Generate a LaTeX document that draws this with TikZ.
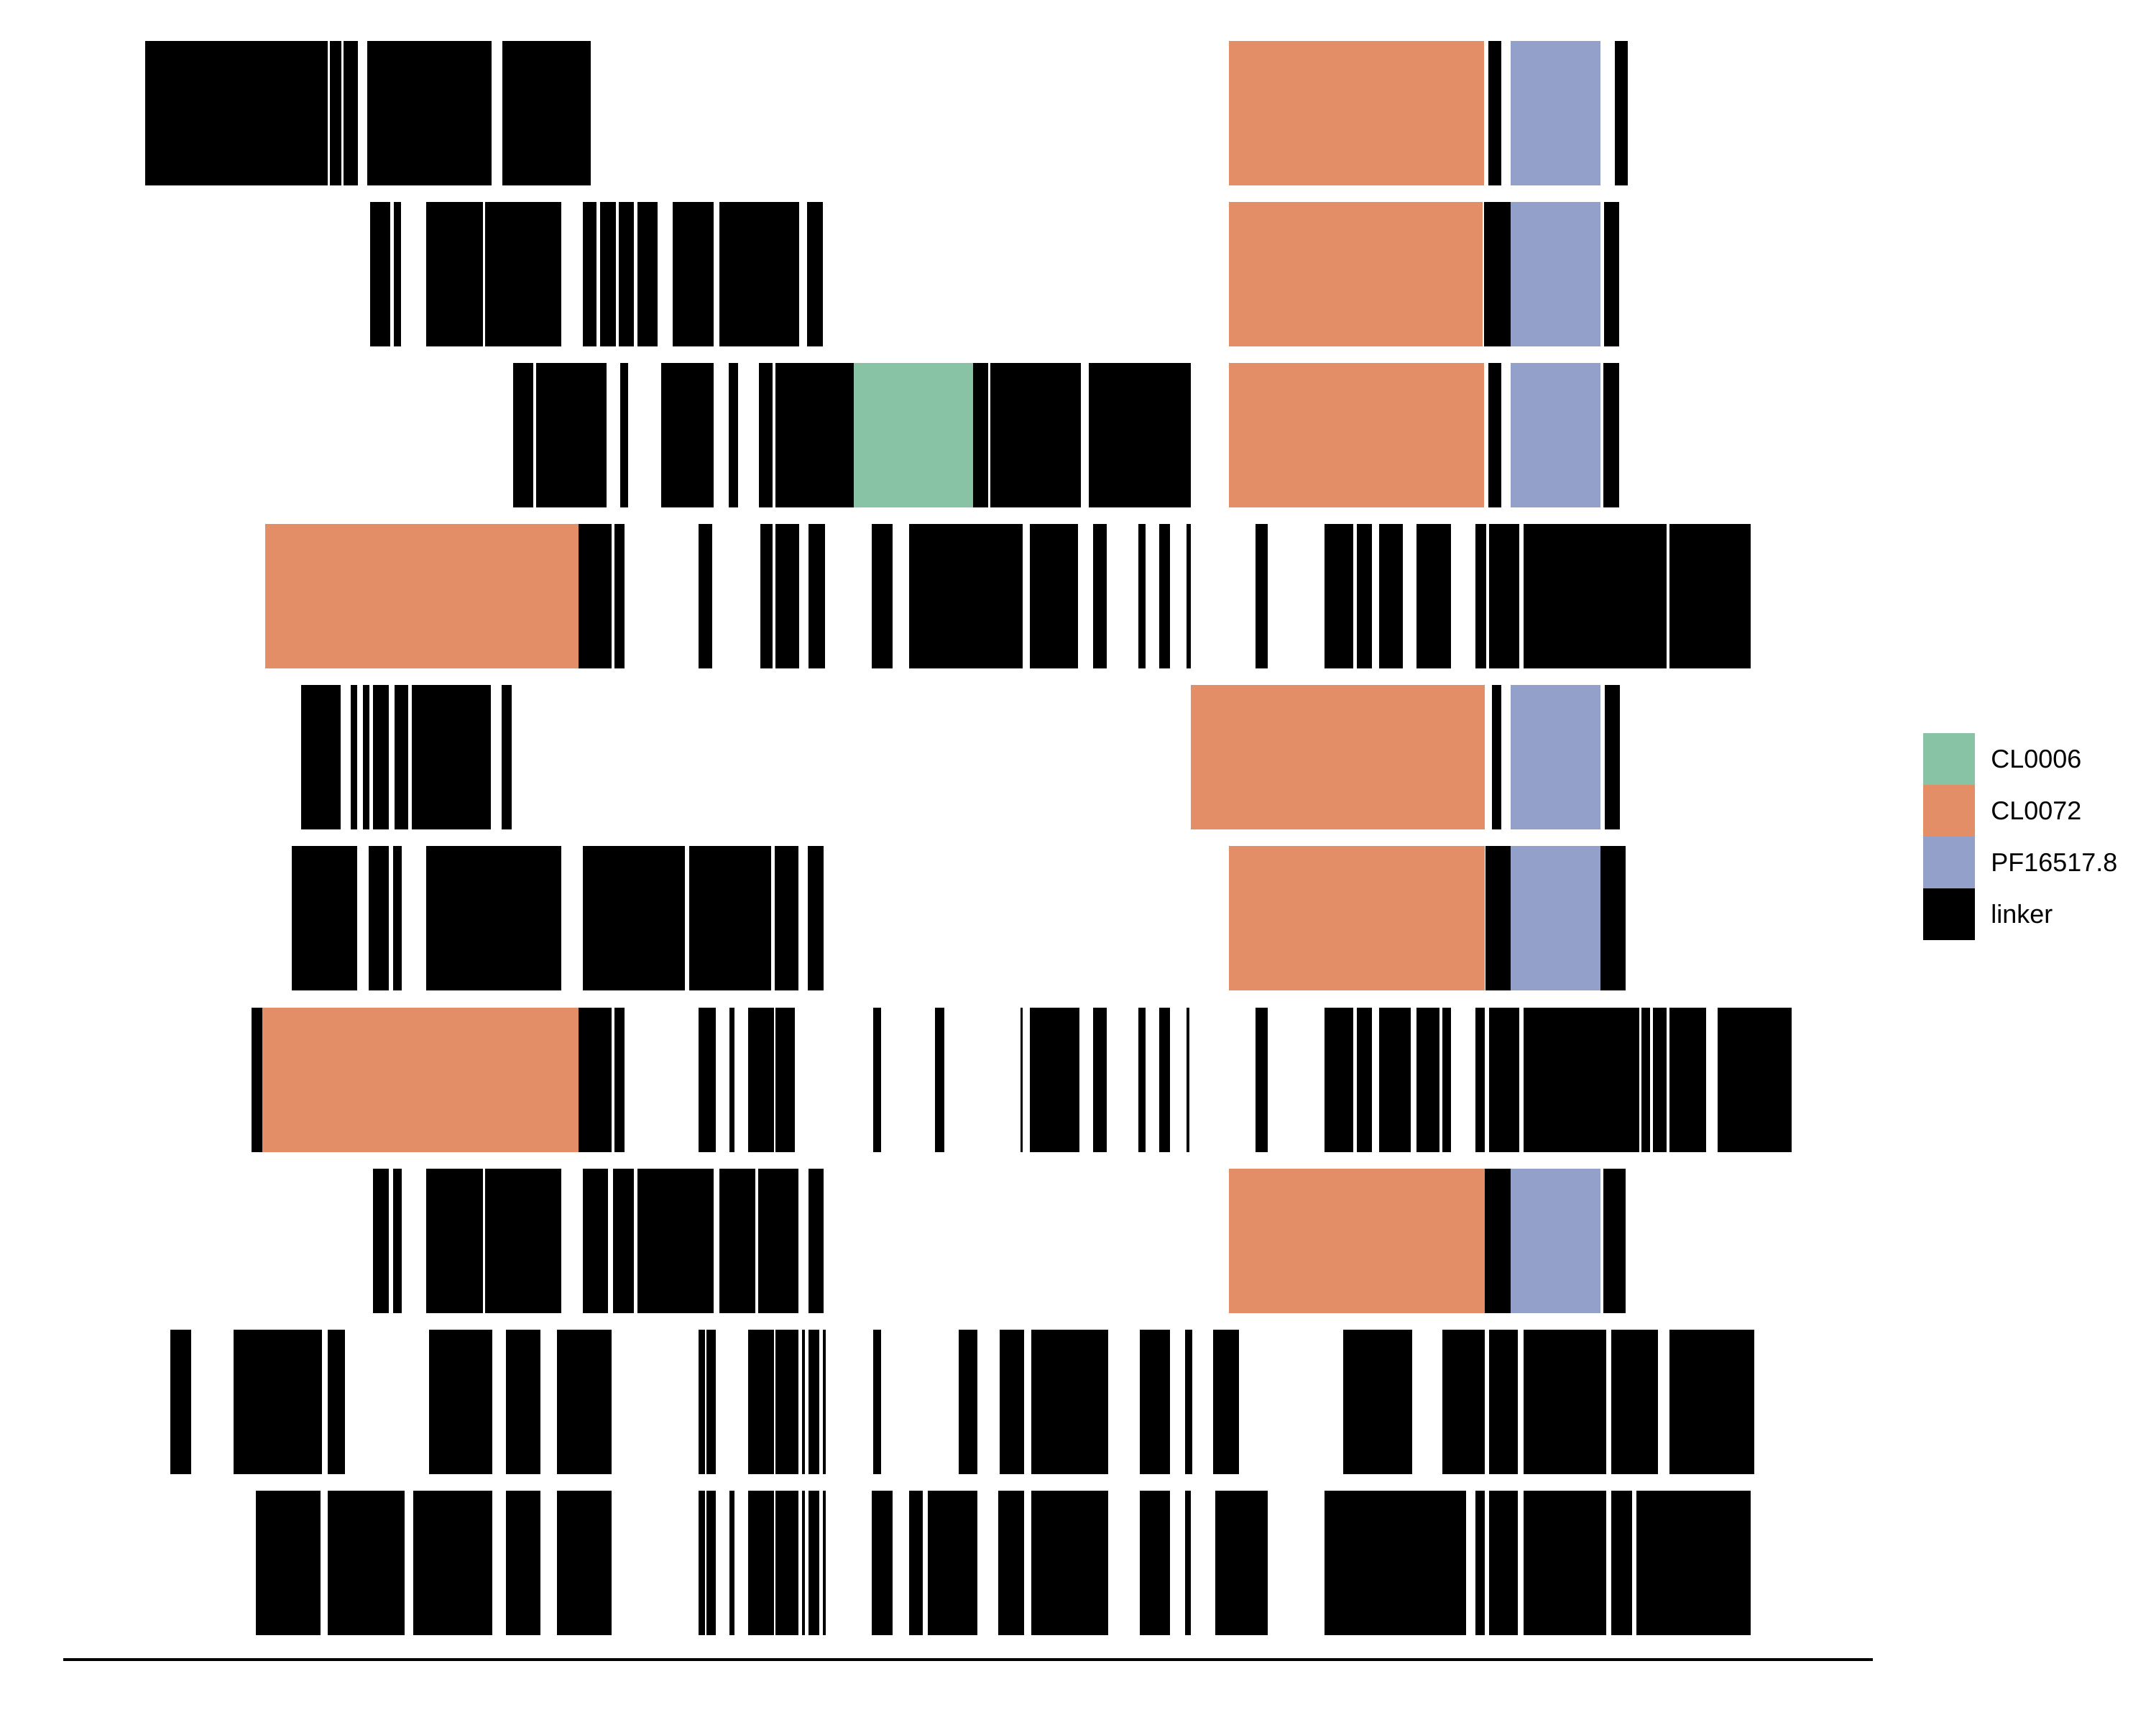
\documentclass[tikz,border=0pt]{standalone}
\usepackage{fontspec}
\setmainfont{Liberation Sans}
\definecolor{cgreen}{HTML}{88C3A6}
\definecolor{corange}{HTML}{E38E67}
\definecolor{cblue}{HTML}{93A0C9}
\newcommand\segrow[3]{\foreach \a/\b in {#3} {\fill[#2] (\a,#1) rectangle (\b,#1+105);}}
\begin{document}
\begin{tikzpicture}[x=1pt,y=-1pt]
\useasboundingbox (0,0) rectangle (1568,1254);
% row 1
\segrow{30}{black}{105.8/238.4, 240/248.5, 250/260.2, 267.2/357.7, 365.5/429.5, 1082.3/1091.7, 1174.4/1183.7}
\segrow{30}{corange}{893.6/1079.2}
\segrow{30}{cblue}{1098.7/1164.2}
% row 2
\segrow{147}{black}{269/284, 286.5/291.5, 310/351, 353/408.4, 424/434, 436.5/448, 450/461, 463.5/478, 489/519, 523/581, 587/598.5, 1079.2/1098.7, 1166.6/1177.5}
\segrow{147}{corange}{893.6/1078.5}
\segrow{147}{cblue}{1098.7/1164.2}
% row 3
\segrow{264}{black}{373/388, 390/441, 451/457, 481/519, 530/537, 552/562, 564/621, 707.5/718.5, 720/786, 792/866, 1082.3/1091.7, 1166/1177.5}
\segrow{264}{cgreen}{621/707.5}
\segrow{264}{corange}{893.6/1079.2}
\segrow{264}{cblue}{1098.7/1164.2}
% row 4
\segrow{381}{corange}{193.1/421}
\segrow{381}{black}{421/445, 447/454, 508/518, 553/562, 564/581, 588/600, 634/649, 661/744, 749/784, 795/805, 828/833, 843/851, 863/866, 913/922, 963/984, 987/998, 1003/1020, 1030/1055, 1073/1081, 1083/1105, 1108/1212, 1214/1273}
% row 5
\segrow{498}{black}{219/248, 255/260, 264/268.5, 271/283, 287/297, 299.5/357, 365/372, 1085/1092, 1167/1178}
\segrow{498}{corange}{866/1080}
\segrow{498}{cblue}{1098.7/1164.2}
% row 6
\segrow{615}{black}{212/260, 268/283, 286/292, 310/408.4, 424/498, 501/561, 563.5/580.5, 587.5/599, 1080.5/1098.7, 1164.2/1182}
\segrow{615}{corange}{893.6/1080}
\segrow{615}{cblue}{1098.7/1164.2}
% row 7
\segrow{733}{black}{183/191, 421/445, 447/454, 508/520.4, 530.5/534, 544/562.7, 563.8/578, 635/641, 680/687, 742/744, 749/785, 795/805, 828/833, 843/851, 863/865, 913/922, 963/984, 987/998, 1003/1026, 1030/1047, 1049/1055, 1073/1080, 1083/1105, 1108/1192, 1193.5/1200, 1202/1212, 1214/1241, 1249/1303}
\segrow{733}{corange}{191/421}
% row 8
\segrow{850}{black}{271/283, 286/292, 310/351, 353/408.4, 424/442, 446/461, 463.5/518.8, 523/549.2, 551.6/580.8, 588/599, 1080/1098.7, 1166/1182}
\segrow{850}{corange}{893.6/1080}
\segrow{850}{cblue}{1098.7/1164.2}
% row 9
\segrow{967}{black}{124/139, 170/234, 238.5/251, 312/358, 368/393, 405/445, 508/512.7, 514/520.4, 544/562.7, 563.8/580.8, 583.3/585.4, 588/596, 598.4/600.5, 635/641, 697/711, 727/745, 750/806, 829/851, 862/867, 882/901, 977/1027, 1049/1080, 1083/1104, 1108/1168, 1172/1206, 1214/1276}
% row 10
\segrow{1084}{black}{186/233, 238.5/294, 300.5/358, 368/393, 405/445, 508/512.7, 514/520.4, 530.5/534, 544/562.7, 563.8/580.8, 583.3/585.4, 588/596, 598.4/600.5, 634/649, 661/671, 675/711, 726/745, 750/806, 829/851, 862/866, 884/922, 963/1066, 1073/1080, 1083/1104, 1108/1168, 1172/1187, 1190/1273}
% baseline
\coordinate (axl) at (46,1207);
\coordinate (axr) at (1362,1207);
\draw[line width=2pt] (axl) -- (axr);
% legend
\tikzset{legbox/.style={minimum width=37.6pt, minimum height=37.6pt, inner sep=0pt, anchor=north west},
 legtext/.style={anchor=west, inner sep=0pt, font=\fontsize{18.8}{21}\selectfont}}
\node[legbox, fill=cgreen] (k1) at (1398.6,533) {};
\node[legbox, fill=corange] (k2) at (1398.6,570.6) {};
\node[legbox, fill=cblue] (k3) at (1398.6,608.2) {};
\node[legbox, fill=black] (k4) at (1398.6,645.8) {};
\node[legtext] (t1) at (1447.8,551.8) {CL0006};
\node[legtext] (t2) at (1447.8,589.4) {CL0072};
\node[legtext] (t3) at (1447.8,627) {PF16517.8};
\node[legtext] (t4) at (1447.8,664.6) {linker};
\end{tikzpicture}
\end{document}
